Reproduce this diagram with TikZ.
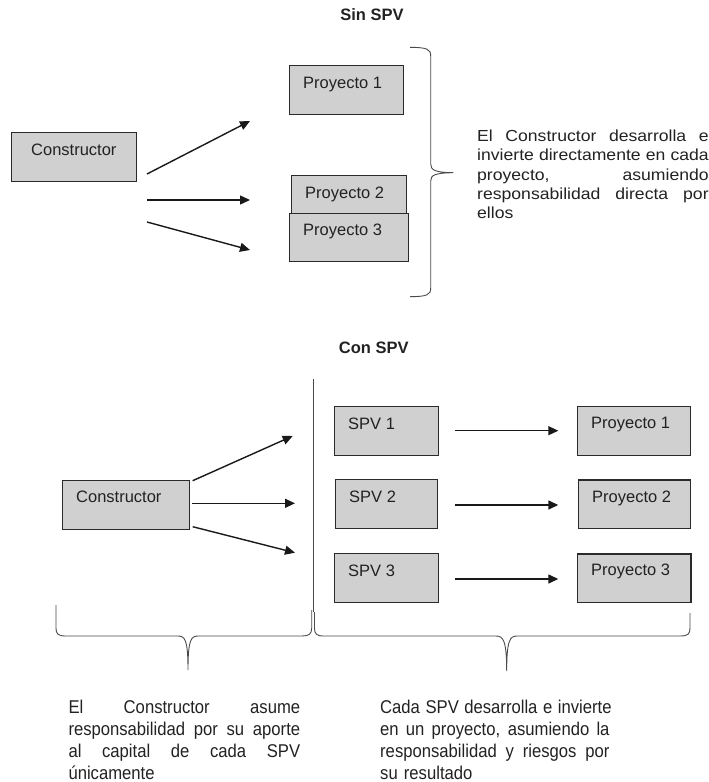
\documentclass[tikz,border=0pt]{standalone}
\usepackage{fontspec}
\setmainfont{Liberation Sans}
\newfontfamily\descA{Liberation Sans}[FakeStretch=1.1]
\newfontfamily\descB{Liberation Sans}[FakeStretch=0.9]
\usetikzlibrary{arrows.meta}
\definecolor{boxfill}{HTML}{D0D0D0}
\definecolor{boxline}{HTML}{2A2A2A}
\definecolor{txtcol}{HTML}{222222}
\definecolor{bracecol}{HTML}{4A4A4A}
\tikzset{
  boxst/.style={draw=boxline, fill=boxfill, line width=1.4pt, rectangle, inner sep=0pt, anchor=north west},
  boxtxt/.style={anchor=base west, inner sep=0pt, text=txtcol, font=\fontsize{16.5}{19.8}\selectfont},
  titletxt/.style={anchor=base, inner sep=0pt, text=txtcol, font=\bfseries\fontsize{16.5}{19.8}\selectfont},
  arr/.style={draw=black!90, line width=1.4pt, -{Triangle[length=10pt,width=9pt]}},
  bracest/.style={draw=bracecol, line width=0.9pt},
  descAst/.style={anchor=base west, inner sep=0pt, text=txtcol, align=left, font=\descA\fontsize{16}{19.2}\selectfont},
  descBst/.style={anchor=base west, inner sep=0pt, text=txtcol, align=left, font=\descB\fontsize{18.5}{22}\selectfont}
}
\newcommand\mkbox[5]{\node[boxst, minimum width=#4pt, minimum height=#5pt] (#1) at (#2,#3) {};}
\newcommand\jline[2]{\hbox to #1{\spaceskip=0.3em plus 1fil\relax #2}}
\begin{document}
\begin{tikzpicture}[x=1pt,y=-1pt]
\useasboundingbox (0,0) rectangle (709,782);
% ---------- Sin SPV ----------
\node[titletxt] (t1) at (372,20.7) {Sin SPV};
\mkbox{tc}{11}{132}{125}{49}
\node[boxtxt] (tct) at (31,155.7) {Constructor};
\mkbox{tp1}{289}{65}{114}{49}
\node[boxtxt] (tp1t) at (303,88.3) {Proyecto 1};
\mkbox{tp2}{291}{175}{115}{38}
\node[boxtxt] (tp2t) at (305,198.3) {Proyecto 2};
\mkbox{tp3}{289}{213}{119}{48}
\node[boxtxt] (tp3t) at (303,235) {Proyecto 3};
\coordinate (ta1s) at (147,174);
\coordinate (ta1e) at (250,121);
\coordinate (ta2s) at (147,200);
\coordinate (ta2e) at (250,200);
\coordinate (ta3s) at (147,222);
\coordinate (ta3e) at (250,250);
\draw[arr] (ta1s) -- (ta1e);
\draw[arr] (ta2s) -- (ta2e);
\draw[arr] (ta3s) -- (ta3e);
% brace
\draw[bracest] (410,47.3) .. controls (427,47.5) and (430.7,49) .. (430.7,56)
  -- (430.7,164) .. controls (430.7,170) and (435,172.5) .. (453.3,172.7)
  .. controls (435,173) and (430.7,175) .. (430.7,181)
  -- (430.7,288) .. controls (430.7,295) and (427,296.5) .. (410,296.7);
\node[descAst, text width=231.5pt] (d1) at (477,141.7) {%
\jline{231.5pt}{El Constructor desarrolla e}
\jline{231.5pt}{invierte directamente en cada}
\jline{231.5pt}{proyecto, asumiendo}
\jline{231.5pt}{responsabilidad directa por}
\hbox{ellos}};
% ---------- Con SPV ----------
\node[titletxt] (t2) at (373.8,353.3) {Con SPV};
\coordinate (vl1) at (313,379);
\coordinate (vl2) at (313,612);
\draw[bracest] (vl1) -- (vl2);
\mkbox{bc}{62}{480}{127}{49}
\node[boxtxt] (bct) at (76,502.7) {Constructor};
\mkbox{s1}{334}{406}{104}{49}
\node[boxtxt] (s1t) at (348,429) {SPV 1};
\mkbox{s2}{335}{479}{102}{48.5}
\node[boxtxt] (s2t) at (349,502.3) {SPV 2};
\mkbox{s3}{334}{553}{104}{49}
\node[boxtxt] (s3t) at (348,576) {SPV 3};
\mkbox{p1}{577}{406}{113}{49}
\node[boxtxt] (p1t) at (591,428.5) {Proyecto 1};
\mkbox{p2}{577.5}{479.3}{112.5}{48.4}
\node[boxtxt] (p2t) at (592,502.3) {Proyecto 2};
\mkbox{p3}{577}{553.3}{113.3}{48.5}
\node[boxtxt] (p3t) at (591,575.7) {Proyecto 3};
\coordinate (ba1s) at (192.7,480.7);
\coordinate (ba1e) at (292.7,436);
\coordinate (ba2s) at (192.3,503.3);
\coordinate (ba2e) at (295,503.3);
\coordinate (ba3s) at (192.7,526.7);
\coordinate (ba3e) at (295,552.7);
\draw[arr] (ba1s) -- (ba1e);
\draw[arr] (ba2s) -- (ba2e);
\draw[arr] (ba3s) -- (ba3e);
\coordinate (r1s) at (455,430.7);
\coordinate (r1e) at (558.3,430.7);
\coordinate (r2s) at (455,505);
\coordinate (r2e) at (558.3,505);
\coordinate (r3s) at (455,579);
\coordinate (r3e) at (558.3,579);
\draw[arr] (r1s) -- (r1e);
\draw[arr] (r2s) -- (r2e);
\draw[arr] (r3s) -- (r3e);
% bottom braces
\draw[bracest] (56,605) -- (56,628) .. controls (56,634) and (58,636) .. (66,636)
  -- (178,636) .. controls (185,636) and (188,640) .. (188,670)
  .. controls (188,640) and (191,636) .. (198,636)
  -- (302,636) .. controls (309,636) and (311.7,634) .. (311.7,628) -- (311.7,610);
\draw[bracest] (314.5,612) -- (314.5,628) .. controls (314.5,634) and (316.5,636) .. (324,636)
  -- (496,636) .. controls (503,636) and (506.7,640) .. (506.7,671)
  .. controls (506.7,640) and (510,636) .. (517,636)
  -- (680,636) .. controls (688,636) and (690,634) .. (690,628) -- (690,613);
\node[descBst, text width=231.7pt] (d2) at (68.3,713) {%
\jline{231.7pt}{El Constructor asume}
\jline{231.7pt}{responsabilidad por su aporte}
\jline{231.7pt}{al capital de cada SPV}
\hbox{únicamente}};
\node[descBst, text width=229.3pt] (d3) at (380,713) {%
\jline{229.3pt}{Cada SPV desarrolla e invierte}
\jline{229.3pt}{en un proyecto, asumiendo la}
\jline{229.3pt}{responsabilidad y riesgos por}
\hbox{su resultado}};
\end{tikzpicture}
\end{document}
